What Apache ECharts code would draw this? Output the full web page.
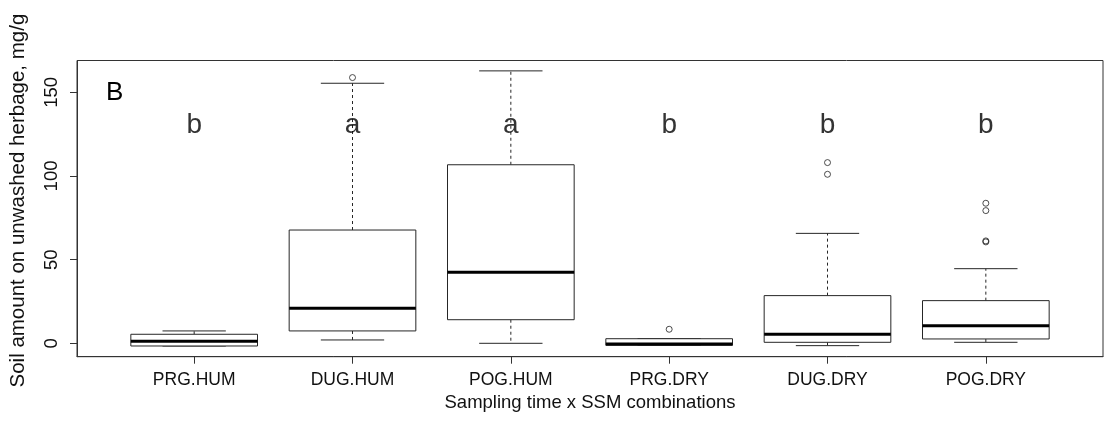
<!DOCTYPE html>
<html>
<head>
<meta charset="utf-8">
<script src="https://cdn.jsdelivr.net/npm/echarts@6/dist/echarts.min.js"></script>
<style>
html,body{margin:0;padding:0;background:#fff;}
#chart{width:1104px;height:423px;}
</style>
</head>
<body>
<div id="chart"></div>
<script>
var categories = ['PRG.HUM','DUG.HUM','POG.HUM','PRG.DRY','DUG.DRY','POG.DRY'];
var lowerWhisker = [-1.6, 2.0, 0.0, -1.2, -1.4, 0.6];
var q1Values     = [-1.6, 7.4, 14.1, -1.2, 0.6, 2.6];
var medianValues = [1.2, 20.9, 42.4, -0.4, 5.4, 10.5];
var q3Values     = [5.4, 67.7, 106.7, 2.75, 28.5, 25.5];
var upperWhisker = [7.4, 155.4, 162.8, 2.75, 65.7, 44.6];
var outliers = [[1,158.8],[3,8.4],[4,108.0],[4,101.0],[5,83.7],[5,79.3],[5,61.2],[5,60.6]];
var groupLetters = ['b','a','a','b','b','b'];
var letterY = 130;
var yTicks = [0, 50, 100, 150];
var xTicks = [0, 1, 2, 3, 4, 5];

var FONT = '"Liberation Sans", Arial, Helvetica, sans-serif';
var boxData = categories.map(function(c, i){
  return [i, lowerWhisker[i], q1Values[i], medianValues[i], q3Values[i], upperWhisker[i]];
});
var letterData = groupLetters.map(function(l, i){ return [i, letterY]; });

var chart = echarts.init(document.getElementById('chart'), null, {renderer:'canvas'});
var stroke = '#262626';
chart.setOption({
  animation: false,
  backgroundColor: '#fff',
  grid: {left: 77, right: 1, top: 60.5, bottom: 66.3, show: true, borderColor: '#333', borderWidth: 1, backgroundColor: 'transparent'},
  xAxis: {
    type: 'value', min: -0.74, max: 5.74,
    splitLine: {show: false},
    axisLine: {show: true, onZero: false, lineStyle: {color: '#333', width: 1}},
    axisTick: {show: true, inside: false, length: 7, customValues: xTicks, lineStyle: {color: '#333'}},
    axisLabel: {show: true, customValues: xTicks, margin: 14, color: '#111', fontSize: 17.5, fontFamily: FONT,
      formatter: function(v){ return categories[Math.round(v)]; }},
    name: 'Sampling time x SSM combinations', nameLocation: 'middle', nameGap: 36,
    nameTextStyle: {fontSize: 18.5, color: '#111', fontFamily: FONT}
  },
  yAxis: {
    type: 'value', min: -8, max: 169,
    splitLine: {show: false},
    axisLine: {show: true, onZero: false, lineStyle: {color: '#333', width: 1}},
    axisTick: {show: true, inside: false, length: 7, customValues: yTicks, lineStyle: {color: '#333'}},
    axisLabel: {show: true, customValues: yTicks, rotate: 90, margin: 16, color: '#111', fontSize: 18.5, fontFamily: FONT},
    name: 'Soil amount on unwashed herbage, mg/g', nameLocation: 'middle', nameGap: 48,
    nameTextStyle: {fontSize: 20.5, color: '#111', fontFamily: FONT, padding: [0, 0, 0, 16]}
  },
  graphic: [{
    type: 'text', left: 106, top: 80,
    style: {text: 'B', fontSize: 26, fill: '#000', fontFamily: FONT}
  }],
  series: [{
    type: 'custom',
    data: boxData,
    silent: true,
    renderItem: function(params, api){
      var i = api.value(0);
      var lo = api.coord([i, api.value(1)]);
      var q1 = api.coord([i, api.value(2)]);
      var md = api.coord([i, api.value(3)]);
      var q3 = api.coord([i, api.value(4)]);
      var hi = api.coord([i, api.value(5)]);
      var bw = api.size([1, 0])[0];
      var half = bw * 0.4, cap = bw * 0.2;
      var x = lo[0];
      var lineS = {stroke: stroke, lineWidth: 1, fill: null};
      var dashS = {stroke: stroke, lineWidth: 1, lineDash: [3, 3], fill: null};
      return {
        type: 'group',
        children: [
          {type: 'line', shape: {x1: x, y1: q3[1], x2: x, y2: hi[1]}, style: dashS},
          {type: 'line', shape: {x1: x, y1: q1[1], x2: x, y2: lo[1]}, style: dashS},
          {type: 'line', shape: {x1: x - cap, y1: hi[1], x2: x + cap, y2: hi[1]}, style: lineS},
          {type: 'line', shape: {x1: x - cap, y1: lo[1], x2: x + cap, y2: lo[1]}, style: lineS},
          {type: 'rect', shape: {x: x - half, y: q3[1], width: 2 * half, height: q1[1] - q3[1]}, style: {stroke: stroke, lineWidth: 1, fill: '#fff'}},
          {type: 'line', shape: {x1: x - half, y1: md[1], x2: x + half, y2: md[1]}, style: {stroke: '#000', lineWidth: 3}}
        ]
      };
    },
    z: 2
  }, {
    type: 'scatter',
    data: outliers,
    symbol: 'circle',
    symbolSize: 6,
    silent: true,
    itemStyle: {color: 'rgba(0,0,0,0)', borderColor: '#222', borderWidth: 1},
    z: 3
  }, {
    type: 'scatter',
    data: letterData,
    symbolSize: 0,
    silent: true,
    label: {show: true, position: 'inside', fontSize: 28, color: '#000', fontFamily: FONT,
      formatter: function(p){ return groupLetters[p.dataIndex]; }},
    z: 4
  }]
});
</script>
</body>
</html>
